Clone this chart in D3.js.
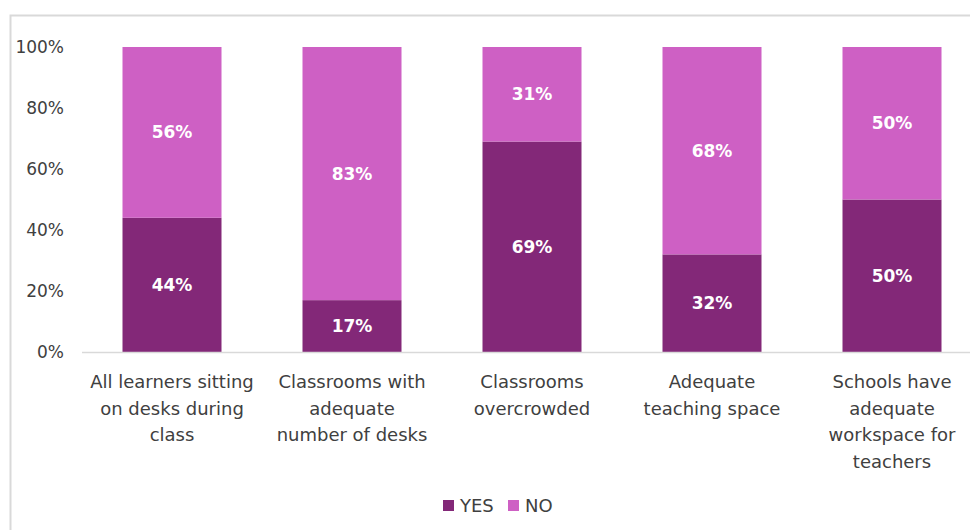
<!DOCTYPE html>
<html><head><meta charset="utf-8">
<script src="https://cdn.jsdelivr.net/npm/d3@7"></script>
<style>body{margin:0;background:#fff;overflow:hidden}svg{display:block}</style>
</head><body>
<svg id="c" width="970" height="530"></svg>
<script>
const categories = [
  ["All learners sitting","on desks during","class"],
  ["Classrooms with","adequate","number of desks"],
  ["Classrooms","overcrowded"],
  ["Adequate","teaching space"],
  ["Schools have","adequate","workspace for","teachers"]
];
const yesValues = [44, 17, 69, 32, 50];
const noValues  = [56, 83, 31, 68, 50];
const yTicks = [0, 20, 40, 60, 80, 100];
const seriesNames = ["YES", "NO"];
const colors = {YES: "#832878", NO: "#CE60C4"};

const font = "'DejaVu Sans', sans-serif";
const txt = "#404040";
const svg = d3.select("#c");
svg.append("rect").attr("x",10.5).attr("y",15.5).attr("width",980).attr("height",540)
  .attr("fill","none").attr("stroke","#d9d9d9").attr("stroke-width",2);

const x = d3.scaleBand().domain(d3.range(categories.length)).range([82, 982]).paddingInner(0.45).paddingOuter(0.225);
const y = d3.scaleLinear().domain([0,100]).range([352, 47]);

const g = svg.append("g");
const yAxis = d3.axisLeft(y).tickValues(yTicks).tickFormat(d => d + "%").tickSize(0).tickPadding(0);
const ya = svg.append("g").attr("transform","translate(64,0)").call(yAxis);
ya.select(".domain").remove();
ya.selectAll("text").attr("font-family",font).attr("font-size",17).attr("fill",txt);

const rows = categories.map((c,i)=>({i, YES: yesValues[i], NO: noValues[i]}));
const stack = d3.stack().keys(seriesNames)(rows);
stack.forEach(s => {
  g.selectAll(null).data(s).enter().append("rect")
    .attr("x", d => x(d.data.i)).attr("width", x.bandwidth())
    .attr("y", d => y(d[1])).attr("height", d => y(d[0]) - y(d[1]))
    .attr("fill", colors[s.key]);
  g.selectAll(null).data(s).enter().append("text")
    .attr("x", d => x(d.data.i) + x.bandwidth()/2)
    .attr("y", d => (y(d[0]) + y(d[1]))/2)
    .attr("dy","0.35em").attr("text-anchor","middle")
    .attr("font-family",font).attr("font-size",17).attr("font-weight","bold").attr("fill","#fff")
    .text(d => (d[1]-d[0]) + "%");
});

svg.append("line").attr("x1",82).attr("x2",982).attr("y1",352.5).attr("y2",352.5).attr("stroke","#d9d9d9").attr("stroke-width",1.5);

categories.forEach((lines,i) => {
  const t = svg.append("text").attr("text-anchor","middle").attr("font-family",font).attr("font-size",18).attr("fill",txt);
  lines.forEach((l,j) => t.append("tspan").attr("x", x(i)+x.bandwidth()/2).attr("y", 388 + j*26.5).text(l));
});

const legend = [{k:"YES", x:443},{k:"NO", x:508}];
legend.forEach(L => {
  svg.append("rect").attr("x",L.x).attr("y",500).attr("width",11).attr("height",11).attr("fill",colors[L.k]);
  svg.append("text").attr("x",L.x+17).attr("y",512).attr("font-family",font).attr("font-size",18).attr("fill",txt).text(L.k);
});
</script>
</body></html>
